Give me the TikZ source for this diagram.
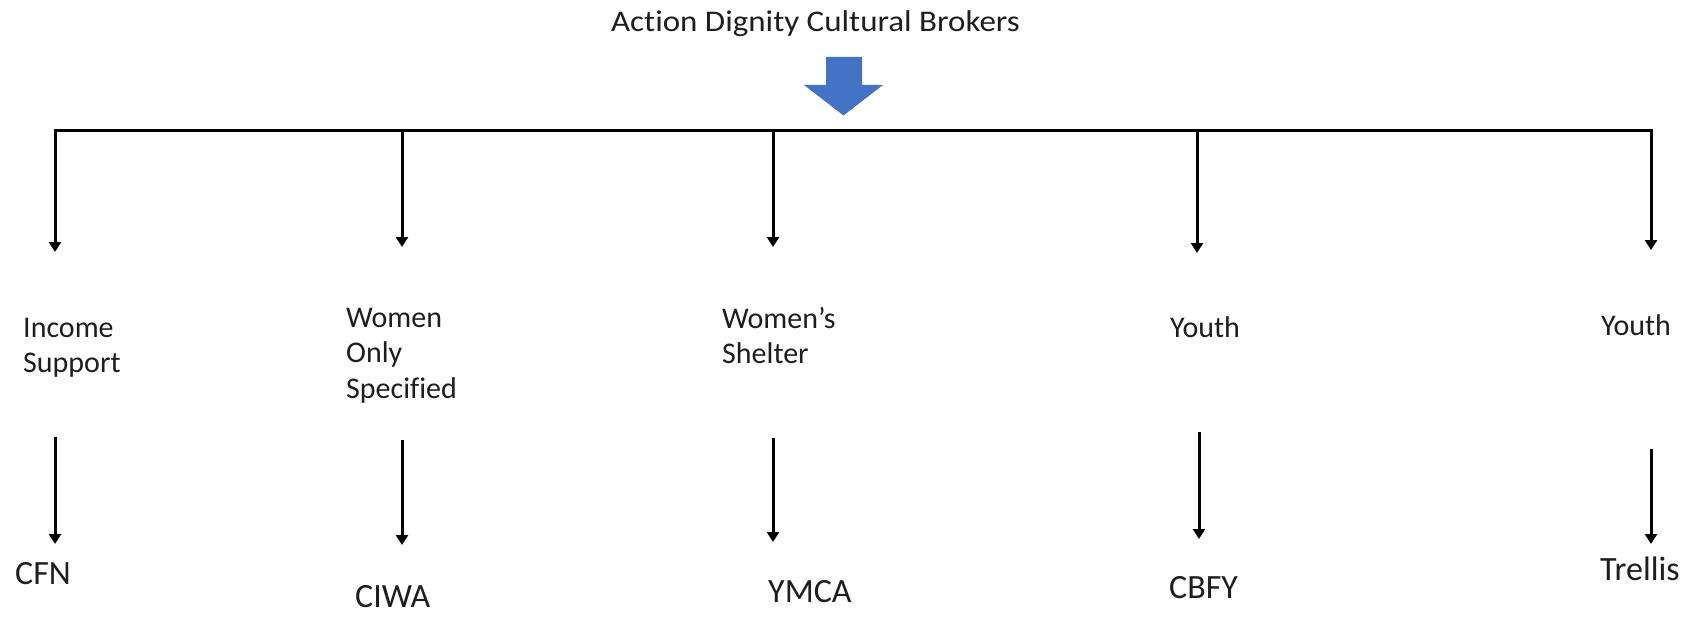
\documentclass[tikz,border=0pt]{standalone}
\usepackage{fontspec}
\usepackage{graphicx}
\setmainfont{Carlito}[Ligatures=NoCommon]
\usetikzlibrary{arrows.meta}
\definecolor{officeblue}{HTML}{4472C4}
\definecolor{txt}{HTML}{1E1E1E}
\begin{document}
\begin{tikzpicture}[x=1pt,y=-1pt,
  conn/.style={line width=3pt,-{Triangle[width=12pt,length=10pt]}},
  hub/.style={line width=3pt,line cap=rect},
  toplbl/.style={anchor=base west,inner sep=0pt,text=txt,font=\fontsize{30}{35.5}\selectfont},
  botlbl/.style={anchor=base west,inner sep=0pt,text=txt,font=\fontsize{34}{40}\selectfont},
  titlelbl/.style={anchor=base,inner sep=0pt,text=txt,font=\fontsize{30}{36}\selectfont},
  bigarrow/.style={fill=officeblue,draw=none}
  ]
\useasboundingbox[fill=white] (0,0) rectangle (1688,639);

% title
\node[titlelbl] (title) at (815.5,32) {\scalebox{1.1}[1]{Action Dignity Cultural Brokers}};

% blue block arrow
\path[bigarrow] (826,57) -- (862,57) -- (862,85) -- (883,85) -- (843.5,115.5)
  -- (804,85) -- (826,85) -- cycle;

% hub line
\coordinate (h1) at (55,131);
\coordinate (h2) at (402,131);
\coordinate (h3) at (773,131);
\coordinate (h4) at (1197,131);
\coordinate (h5) at (1651,131);
\draw[hub] (h1) -- (h5);

% upper drops
\coordinate (t1) at (55,252);
\coordinate (t2) at (402,247);
\coordinate (t3) at (773,247);
\coordinate (t4) at (1197,253);
\coordinate (t5) at (1651,250);
\foreach \i in {1,...,5}{\draw[conn] (h\i) -- (t\i);}

% category labels
\node[toplbl] (c1) at (23,337) {\begin{tabular}[t]{@{}l@{}}Income\\Support\end{tabular}};
\node[toplbl] (c2) at (346,327) {\begin{tabular}[t]{@{}l@{}}Women\\Only\\Specified\end{tabular}};
\node[toplbl] (c3) at (722,328) {\begin{tabular}[t]{@{}l@{}}Women’s\\Shelter\end{tabular}};
\node[toplbl] (c4) at (1170,337) {Youth};
\node[toplbl] (c5) at (1601,335) {Youth};

% lower arrows
\coordinate (s1) at (55,437);   \coordinate (e1) at (55,544);
\coordinate (s2) at (402,440);  \coordinate (e2) at (402,545);
\coordinate (s3) at (773,438);  \coordinate (e3) at (773,542);
\coordinate (s4) at (1199,432); \coordinate (e4) at (1199,539);
\coordinate (s5) at (1651,449); \coordinate (e5) at (1651,544);
\foreach \i in {1,...,5}{\draw[conn] (s\i) -- (e\i);}

% organisations
\node[botlbl] (o1) at (15,584) {CFN};
\node[botlbl] (o2) at (355,607) {CIWA};
\node[botlbl] (o3) at (768,602) {YMCA};
\node[botlbl] (o4) at (1169,598) {CBFY};
\node[botlbl] (o5) at (1600,580) {Trellis};
\end{tikzpicture}
\end{document}
